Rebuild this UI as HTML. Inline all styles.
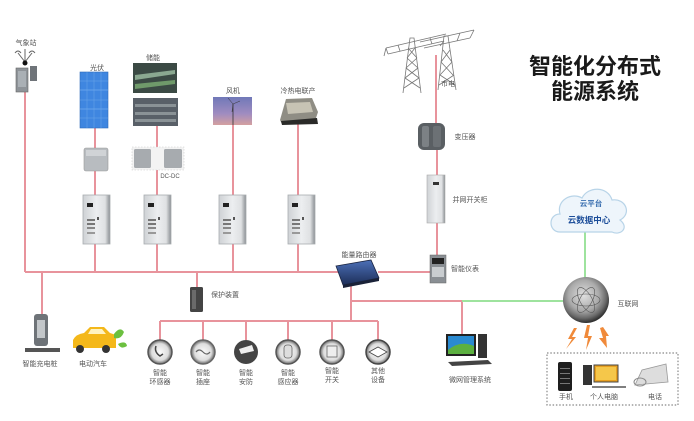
<!DOCTYPE html>
<html><head><meta charset="utf-8">
<style>
html,body{margin:0;padding:0;background:#fff;}
svg{display:block;}
text{font-family:"Liberation Sans","Noto Sans CJK SC",sans-serif;fill:#555;}
</style></head>
<body>
<svg width="694" height="421" viewBox="0 0 694 421" xmlns="http://www.w3.org/2000/svg">
<defs>
  <linearGradient id="cab" x1="0" x2="1" y1="0" y2="0">
    <stop offset="0" stop-color="#cfd2d5"/><stop offset="0.5" stop-color="#eceef0"/><stop offset="0.82" stop-color="#dfe1e3"/><stop offset="1" stop-color="#8a8f93"/>
  </linearGradient>
  <linearGradient id="wind" x1="0" x2="0" y1="0" y2="1">
    <stop offset="0" stop-color="#7078b8"/><stop offset="0.6" stop-color="#a08cc0"/><stop offset="1" stop-color="#d4a0a0"/>
  </linearGradient>
  <radialGradient id="globe" cx="0.45" cy="0.4" r="0.6">
    <stop offset="0" stop-color="#e0e0e0"/><stop offset="0.55" stop-color="#aaa"/><stop offset="0.82" stop-color="#6a6a6a"/><stop offset="1" stop-color="#2e2e2e"/>
  </radialGradient>
  <radialGradient id="circ" cx="0.5" cy="0.5" r="0.5">
    <stop offset="0" stop-color="#fafafa"/><stop offset="0.7" stop-color="#ddd"/><stop offset="1" stop-color="#666"/>
  </radialGradient>
  <linearGradient id="router" x1="0" x2="0" y1="0" y2="1">
    <stop offset="0" stop-color="#4c70b8"/><stop offset="1" stop-color="#1d2e58"/>
  </linearGradient>
  <g id="cabinet">
    <rect x="0" y="0" width="27" height="49" fill="url(#cab)" stroke="#a8acb0" stroke-width="0.8"/>
    <rect x="4" y="8" width="6" height="4" fill="#222"/>
    <rect x="4" y="24" width="8" height="2" fill="#777"/>
    <rect x="4" y="28" width="8" height="2" fill="#777"/>
    <rect x="4" y="32" width="8" height="2" fill="#888"/>
    <rect x="4" y="37" width="8" height="2" fill="#999"/>
    <rect x="14" y="22" width="2" height="3" fill="#555"/>
  </g>
</defs>

<!-- ===== red lines ===== -->
<g stroke="#e8939c" stroke-width="2" fill="none">
  <path d="M25,272 H338"/>
  <path d="M378,272 H431"/>
  <path d="M25,91 V272"/>
  <path d="M42,272 V314"/>
  <path d="M95,128 V195 M95,244 V272"/>
  <path d="M157,126 V195 M157,244 V272"/>
  <path d="M197,272 V288"/>
  <path d="M233,124 V195 M233,243 V272"/>
  <path d="M298,123 V195 M298,243 V272"/>
  <path d="M436,55 V124 M437,150 V176 M437,223 V256"/>
  <path d="M351,282 V321"/>
  <path d="M351,301 H462 V334"/>
  <path d="M160,321 H378"/>
  <path d="M160,321 V340 M203,321 V340 M246,321 V340 M288,321 V340 M332,321 V340 M378,321 V340"/>
</g>
<!-- green lines -->
<g stroke="#9ee39e" stroke-width="2" fill="none">
  <path d="M462,301 H564"/>
  <path d="M585,230 V279"/>
</g>

<!-- ===== Weather station ===== -->
<text x="26" y="45" font-size="7" text-anchor="middle">气象站</text>
<g stroke="#666" stroke-width="1" fill="none">
  <path d="M25,62 L18,53 M25,62 L32,53 M25,62 V49"/>
  <path d="M15,53 q3,-4 6,0 M29,53 q3,-4 6,0"/>
</g>
<circle cx="25" cy="63" r="2.5" fill="#111"/>
<rect x="16" y="68" width="12" height="24" fill="#8e9398" stroke="#666" stroke-width="0.6"/>
<rect x="18" y="71" width="8" height="16" fill="#aab0b5"/>
<rect x="30" y="66" width="7" height="15" fill="#6f7479"/>

<!-- ===== PV ===== -->
<text x="97" y="70" font-size="7" text-anchor="middle">光伏</text>
<rect x="80" y="72" width="28" height="56" fill="#3f86e0" stroke="#2e6bb8" stroke-width="0.6"/>
<g stroke="#8cc0f5" stroke-width="0.5">
  <path d="M80,90 H108 M80,109 H108"/>
  <path d="M80,81 H108 M80,100 H108 M80,118 H108" stroke="#6aa6ea"/>
  <path d="M87,72 V128 M94,72 V128 M101,72 V128" stroke="#6aa6ea"/>
</g>
<rect x="84" y="148" width="24" height="23" rx="2" fill="#b8bcc0" stroke="#999" stroke-width="0.6"/>
<rect x="86" y="150" width="20" height="6" fill="#d0d3d6"/>
<use href="#cabinet" x="83" y="195"/>

<!-- ===== Storage ===== -->
<text x="153" y="60" font-size="7" text-anchor="middle">储能</text>
<rect x="133" y="63" width="44" height="30" fill="#3b4a44"/>
<path d="M135,75 L175,70 L175,74 L135,80 Z" fill="#8aa890"/>
<path d="M135,84 L175,80 L175,84 L135,89 Z" fill="#6f9a6a"/>
<rect x="133" y="98" width="45" height="28" fill="#596068"/>
<g fill="#8a9296"><rect x="135" y="104" width="41" height="3"/><rect x="135" y="112" width="41" height="3"/><rect x="135" y="119" width="41" height="3"/></g>
<rect x="132" y="147" width="52" height="23" fill="#f3f3f3" stroke="#ccc" stroke-width="0.6" stroke-dasharray="1.5,1.5"/>
<rect x="134" y="149" width="17" height="19" rx="1.5" fill="#a7abaf"/>
<rect x="164" y="149" width="18" height="19" rx="1.5" fill="#a7abaf"/>
<text x="170" y="178" font-size="6" text-anchor="middle">DC-DC</text>
<use href="#cabinet" x="144" y="195"/>

<!-- ===== Wind ===== -->
<text x="233" y="93" font-size="7" text-anchor="middle">风机</text>
<rect x="213" y="97" width="39" height="28" fill="url(#wind)"/>
<path d="M233,104 V125" stroke="#333" stroke-width="0.8"/>
<path d="M233,104 L228,98 M233,104 L240,101 M233,104 L232,112" stroke="#333" stroke-width="0.5"/>
<use href="#cabinet" x="219" y="195"/>

<!-- ===== CHP ===== -->
<text x="298" y="93" font-size="7" text-anchor="middle">冷热电联产</text>
<path d="M280,120 L286,99 L312,98 L318,112 L314,124 L282,124 Z" fill="#8f8d84"/>
<path d="M286,103 L310,102 L313,112 L288,114 Z" fill="#c7c3b4"/>
<path d="M281,121 L317,118 L318,124 L282,125 Z" fill="#2a2a28"/>
<use href="#cabinet" x="288" y="195"/>

<!-- ===== Grid towers ===== -->
<g stroke="#777" stroke-width="0.8" fill="none">
  <!-- left tower -->
  <path d="M403,93 L410,38 L414,38 L421,93"/>
  <path d="M404,88 L419,78 M420,88 L405,78 M405,78 L418,68 M419,78 L406,68 M406,68 L417,58 M418,68 L407,58 M407,58 L415,48 M417,58 L408,48"/>
  <path d="M386,48 L446,34 M388,54 L444,41"/>
  <path d="M386,48 L388,54 M398,45 L400,51 M430,38 L432,44"/>
  <!-- right tower -->
  <path d="M438,90 L444,36 L448,36 L456,90"/>
  <path d="M439,85 L454,75 M455,85 L440,75 M440,75 L452,62 M453,75 L441,62 M441,62 L450,50 M452,62 L443,50"/>
  <path d="M420,42 L474,30 M424,48 L470,38"/>
  <path d="M474,30 L470,38 M460,33 L457,41"/>
  <!-- wires -->
  <path d="M386,48 L384,56 M444,41 L440,46"/>
</g>
<text x="448" y="86" font-size="7" text-anchor="middle">市电</text>

<!-- transformer -->
<rect x="418" y="123" width="27" height="27" rx="6" fill="#5a5f63"/>
<rect x="422" y="126" width="7" height="21" rx="2" fill="#7c8185"/>
<rect x="433" y="126" width="8" height="21" rx="2" fill="#6c7175"/>
<text x="465" y="139" font-size="7" text-anchor="middle">变压器</text>

<!-- grid switch cabinet -->
<rect x="427" y="175" width="18" height="48" fill="url(#cab)" stroke="#aaa" stroke-width="0.6"/>
<rect x="433" y="182" width="6" height="3" fill="#333"/>
<text x="470" y="202" font-size="7" text-anchor="middle">并网开关柜</text>

<!-- meter -->
<rect x="430" y="255" width="16" height="28" fill="#8a8f94" stroke="#666" stroke-width="0.5"/>
<rect x="432" y="258" width="12" height="6" fill="#222"/>
<rect x="432" y="267" width="12" height="10" fill="#c9cdd0"/>
<text x="465" y="271" font-size="7" text-anchor="middle">智能仪表</text>

<!-- router -->
<text x="359" y="257" font-size="7" text-anchor="middle">能量路由器</text>
<path d="M336,266 L371,260 L379,278 L343,285 Z" fill="url(#router)" stroke="#1a2440" stroke-width="0.8"/>
<path d="M343,285 L379,278 L379,281 L343,288 Z" fill="#1a2238"/>

<!-- title -->
<text x="595" y="74" font-size="22" font-weight="bold" text-anchor="middle" style="fill:#1a1a1a">智能化分布式</text>
<text x="595" y="99" font-size="22" font-weight="bold" text-anchor="middle" style="fill:#1a1a1a">能源系统</text>

<!-- cloud -->
<path d="M560,232 C548,232 548,214 560,214 C556,200 572,192 582,198 C588,186 608,186 612,200 C626,198 632,214 620,220 C630,228 620,236 612,232 Z" fill="#eef5fb" stroke="#b8d4e8" stroke-width="1.2"/>
<text x="591" y="206" font-size="7.5" text-anchor="middle" style="fill:#3a6fb0;font-weight:bold">云平台</text>
<text x="589" y="223" font-size="8.5" text-anchor="middle" style="fill:#1d4e9a;font-weight:bold">云数据中心</text>

<!-- globe -->
<circle cx="586" cy="300" r="23" fill="url(#globe)"/>
<g stroke="#555" stroke-width="0.6" fill="none">
  <ellipse cx="586" cy="300" rx="14" ry="6"/>
  <ellipse cx="586" cy="300" rx="14" ry="6" transform="rotate(60 586 300)"/>
  <ellipse cx="586" cy="300" rx="14" ry="6" transform="rotate(-60 586 300)"/>
</g>
<text x="628" y="306" font-size="7" text-anchor="middle">互联网</text>

<!-- lightning -->
<g fill="#f08a3a">
  <path d="M574,328 L568,339 L572,339 L566,349 L576,337 L572,337 L577,328 Z"/>
  <path d="M587,325 L584,338 L588,338 L586,350 L592,336 L588,336 L590,325 Z"/>
  <path d="M600,328 L603,338 L599,338 L607,348 L606,336 L609,336 L603,327 Z"/>
</g>

<!-- dotted box -->
<rect x="547" y="353" width="131" height="52" fill="none" stroke="#888" stroke-width="1.2" stroke-dasharray="1.5,1.8"/>
<rect x="558" y="362" width="14" height="29" rx="2" fill="#1e1e1e"/>
<g fill="#777"><rect x="560" y="368" width="10" height="1"/><rect x="560" y="373" width="10" height="1"/><rect x="560" y="378" width="10" height="1"/><rect x="560" y="383" width="10" height="1"/></g>
<rect x="583" y="365" width="9" height="20" fill="#333"/>
<rect x="594" y="365" width="24" height="17" fill="#e8a020" stroke="#444" stroke-width="1"/>
<rect x="596" y="367" width="20" height="13" fill="#f5c74a"/>
<path d="M592,387 H626" stroke="#555" stroke-width="1.5"/>
<path d="M635,385 L642,370 L666,364 L668,382 Z" fill="#ddd" stroke="#999" stroke-width="0.8"/>
<ellipse cx="640" cy="382" rx="6" ry="4" fill="none" stroke="#888" stroke-width="1"/>
<text x="566" y="399" font-size="7" text-anchor="middle">手机</text>
<text x="604" y="399" font-size="7" text-anchor="middle">个人电脑</text>
<text x="655" y="399" font-size="7" text-anchor="middle">电话</text>

<!-- computer -->
<rect x="446" y="334" width="30" height="22" fill="#222"/>
<rect x="448" y="336" width="26" height="18" fill="#2a8ad0"/>
<path d="M448,350 Q460,340 474,346 V354 H448 Z" fill="#5cb040"/>
<rect x="478" y="334" width="9" height="24" fill="#333"/>
<path d="M448,362 L488,360 L492,364 L452,366 Z" fill="#444"/>
<text x="470" y="382" font-size="7" text-anchor="middle">微网管理系统</text>

<!-- protection device -->
<rect x="190" y="287" width="13" height="25" rx="1.5" fill="#444"/>
<rect x="192" y="290" width="4" height="19" fill="#6a6a6a"/>
<text x="225" y="297" font-size="7" text-anchor="middle">保护装置</text>

<!-- charging pile -->
<rect x="34" y="314" width="14" height="32" rx="3" fill="#6e7378"/>
<rect x="37" y="320" width="8" height="18" fill="#c3c7ca"/>
<path d="M25,348 L60,348 L60,352 L25,352 Z" fill="#555"/>
<text x="40" y="366" font-size="7" text-anchor="middle">智能充电桩</text>

<!-- car -->
<path d="M73,348 L73,340 Q76,334 84,333 L90,327 L104,327 L110,333 L116,335 L116,348 Z" fill="#f4b81a"/>
<path d="M91,329 L102,329 L106,334 L88,334 Z" fill="#fff3c0"/>
<circle cx="80" cy="349" r="4" fill="#333"/>
<circle cx="106" cy="349" r="4" fill="#333"/>
<path d="M114,334 q6,-8 10,-2 q-3,8 -10,6 Z M118,344 q8,-4 9,2 q-6,4 -9,-2 Z" fill="#6cc040"/>
<text x="93" y="366" font-size="7" text-anchor="middle">电动汽车</text>

<!-- bottom devices -->
<g>
  <circle cx="160" cy="352" r="12" fill="url(#circ)" stroke="#555" stroke-width="1.5"/>
  <circle cx="203" cy="352" r="12" fill="url(#circ)" stroke="#666" stroke-width="1.5"/>
  <circle cx="246" cy="352" r="12" fill="#444"/>
  <circle cx="288" cy="352" r="12" fill="url(#circ)" stroke="#555" stroke-width="1.5"/>
  <circle cx="332" cy="352" r="12" fill="url(#circ)" stroke="#555" stroke-width="1.5"/>
  <circle cx="378" cy="352" r="12" fill="url(#circ)" stroke="#444" stroke-width="1.5"/>
  <path d="M156,346 q-2,6 4,10 l3,-2" stroke="#444" stroke-width="1.5" fill="none"/>
  <path d="M196,352 q3,-4 7,0 q4,4 7,0" stroke="#666" stroke-width="1.2" fill="none"/>
  <path d="M239,349 L252,345 L254,351 L241,354 Z" fill="#eee"/>
  <rect x="284" y="345" width="8" height="13" rx="3" fill="#ddd" stroke="#666" stroke-width="0.8"/>
  <rect x="327" y="346" width="10" height="11" fill="#eee" stroke="#666" stroke-width="0.8"/>
  <path d="M369,352 L378,347 L387,352 L378,357 Z" fill="#fff" stroke="#444" stroke-width="0.8"/>
</g>
<g font-size="7" text-anchor="middle">
  <text x="160" y="375">智能</text><text x="160" y="384">环感器</text>
  <text x="203" y="375">智能</text><text x="203" y="384">插座</text>
  <text x="246" y="375">智能</text><text x="246" y="384">安防</text>
  <text x="288" y="375">智能</text><text x="288" y="384">感应器</text>
  <text x="332" y="373">智能</text><text x="332" y="382">开关</text>
  <text x="378" y="373">其他</text><text x="378" y="382">设备</text>
</g>
</svg>
</body></html>
